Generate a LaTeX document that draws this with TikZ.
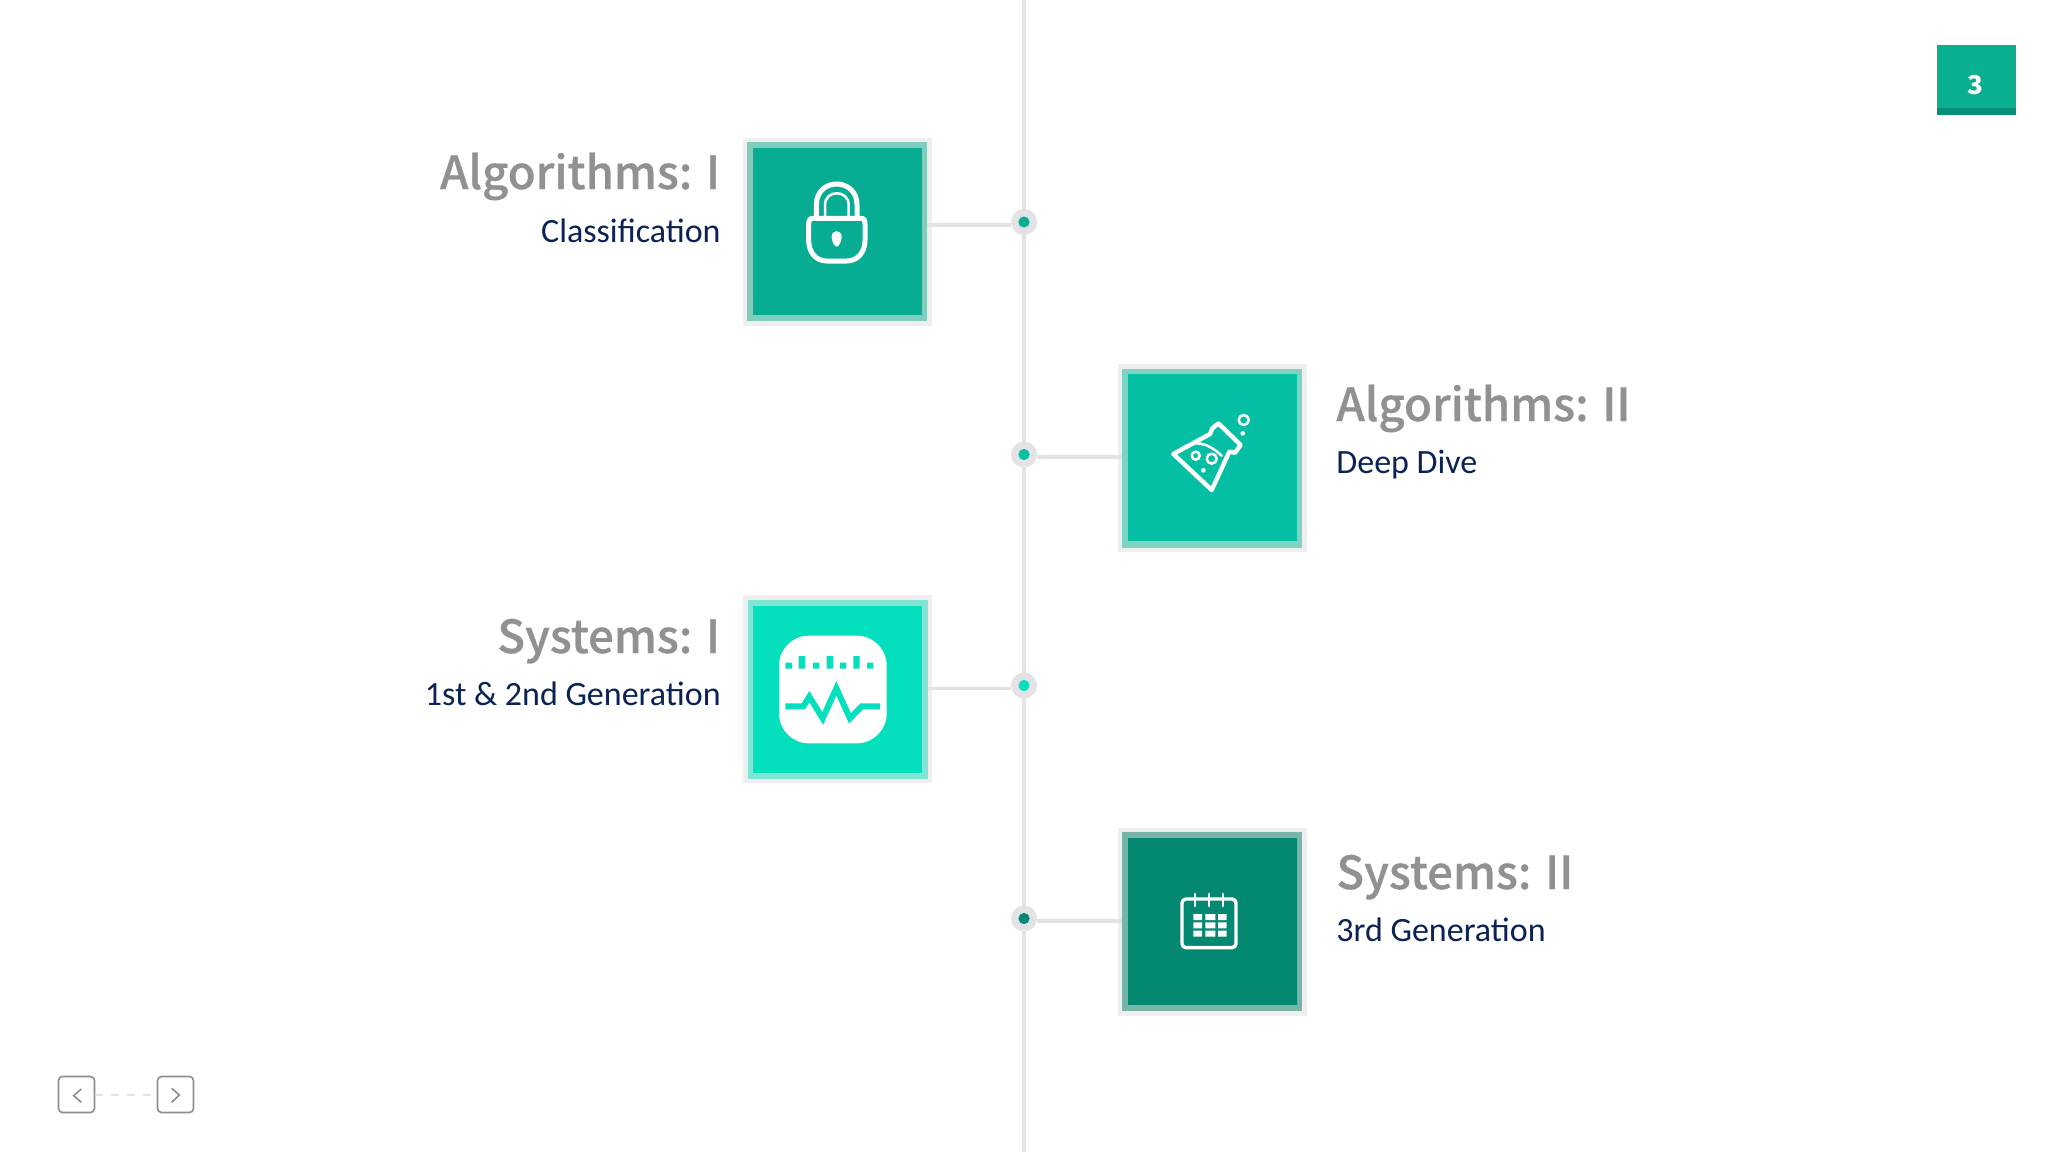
\documentclass[tikz,border=0pt]{standalone}
\usepackage{fontspec}
\setmainfont{Noto Sans CJK SC}
\newfontfamily\titlefont{Noto Sans CJK SC Medium}[FakeBold=0.6]
\newfontfamily\subfont{Carlito}
\definecolor{guide}{HTML}{E3E3E5}
\definecolor{halo}{HTML}{EFEEF0}
\definecolor{navy}{HTML}{0B2254}
\definecolor{titlegray}{HTML}{919191}
\definecolor{tealA}{HTML}{07AD93}
\definecolor{tealB}{HTML}{05BFA5}
\definecolor{tealC}{HTML}{04E0BD}
\definecolor{tealD}{HTML}{038872}
\definecolor{bandA}{HTML}{7FCDBD}
\definecolor{bandB}{HTML}{7ED3C2}
\definecolor{bandC}{HTML}{7FE6D5}
\definecolor{bandD}{HTML}{78B5A8}
\definecolor{navgray}{HTML}{8E8E8E}
\definecolor{badge}{HTML}{0AAE91}
\definecolor{badgedark}{HTML}{078F79}
\tikzset{
 x=0.5pt,y=-0.5pt,
 haloBox/.style={minimum width=94.5pt,minimum height=94pt,inner sep=0pt,outer sep=0pt,fill=halo},
 bandBox/.style={minimum width=90pt,minimum height=89.5pt,inner sep=0pt,outer sep=0pt},
 coreBox/.style={minimum width=84.5pt,minimum height=83.5pt,inner sep=0pt,outer sep=0pt},
 dotOuter/.style={circle,fill=guide,minimum size=13pt,inner sep=0pt,outer sep=0pt},
 dotInner/.style={circle,minimum size=5.6pt,inner sep=0pt,outer sep=0pt},
 guideline/.style={draw=guide,line width=2pt},
 connector/.style={draw=guide,line width=1.7pt},
 titleText/.style={font=\titlefont\fontsize{22.8pt}{26pt}\selectfont,text=titlegray,inner sep=0pt},
 subText/.style={font=\subfont\fontsize{17pt}{19pt}\selectfont,text=navy,inner sep=0pt},
 icon/.style={draw=white,line width=2.5pt,line join=round,line cap=round},
 flask/.style={draw=white,line width=2.2pt,line join=round,line cap=round},
 iconthin/.style={draw=white,line width=1.25pt,line join=round,line cap=round},
 navBox/.style={draw=navgray,line width=0.8pt,rounded corners=2pt,minimum size=18pt,inner sep=0pt,outer sep=0pt},
 navArrow/.style={draw=navgray,line width=0.8pt},
}
\begin{document}
\begin{tikzpicture}
\useasboundingbox (0,0) rectangle (2048,1152);
\fill[white] (0,0) rectangle (2048,1152);
% timeline
\coordinate (top) at (1024,0);
\coordinate (bottom) at (1024,1152);
\draw[guideline] (top) -- (bottom);
% dots
\node[dotOuter] (d1) at (1024,222) {};
\node[dotOuter] (d2) at (1024,454.5) {};
\node[dotOuter] (d3) at (1024,685.5) {};
\node[dotOuter] (d4) at (1024,918.5) {};
\node[dotInner,fill=tealA] (i1) at (d1) {};
\node[dotInner,fill=tealB] (i2) at (d2) {};
\node[dotInner,fill=tealC] (i3) at (d3) {};
\node[dotInner,fill=tealD] (i4) at (d4) {};
% boxes
\node[haloBox] (h1) at (837.5,231.5) {};
\node[bandBox,fill=bandA] (b1) at (837,231.5) {};
\node[coreBox,fill=tealA] (c1) at (837.5,231.5) {};
\node[haloBox] (h2) at (1212,458) {};
\node[bandBox,fill=bandB] (b2) at (1212,458) {};
\node[coreBox,fill=tealB] (c2) at (1212,457.5) {};
\node[haloBox] (h3) at (837.5,689) {};
\node[bandBox,fill=bandC] (b3) at (837.5,689) {};
\node[coreBox,fill=tealC] (c3) at (837.5,689) {};
\node[haloBox] (h4) at (1212,922) {};
\node[bandBox,fill=bandD] (b4) at (1212,921.5) {};
\node[coreBox,fill=tealD] (c4) at (1212,921) {};
% connectors
\coordinate (k1) at (1024,225);
\coordinate (k2) at (1024,457);
\coordinate (k3) at (1024,688.5);
\coordinate (k4) at (1024,921);
\draw[connector] (k1 -| b1.east) -- (k1 -| d1.west);
\draw[connector] (k2 -| b2.west) -- (k2 -| d2.east);
\draw[connector] (k3 -| b3.east) -- (k3 -| d3.west);
\draw[connector] (k4 -| b4.west) -- (k4 -| d4.east);
% labels
\node[titleText,anchor=base east] (t1) at (720.5,189) {Algorithms: I};
\node[subText,anchor=base east] (s1) at (721,242) {Classification};
\node[titleText,anchor=base west] (t2) at (1336,421) {Algorithms: II};
\node[subText,anchor=base west] (s2) at (1336,473) {Deep Dive};
\node[titleText,anchor=base east] (t3) at (720.5,653) {Systems: I};
\node[subText,anchor=base east] (s3) at (721,705) {1st \& 2nd Generation};
\node[titleText,anchor=base west] (t4) at (1336,889) {Systems: II};
\node[subText,anchor=base west] (s4) at (1336,941) {3rd Generation};
% lock
\begin{scope}[shift={(730,130)},scale=1/3]
\draw[icon] (236,282) .. controls (236,270) and (240,265) .. (250,265) -- (392,265) .. controls (402,265) and (405,270) .. (405,282) -- (405,330) .. controls (405,370) and (380,393) .. (350,393) -- (290,393) .. controls (260,393) and (236,370) .. (236,330) -- cycle;
\draw[icon] (259,262) -- (259,225) .. controls (259,141) and (381,141) .. (381,225) -- (381,262);
\draw[iconthin] (285,262) -- (285,225) .. controls (285,178) and (356,178) .. (356,225) -- (356,262);
\fill[white] (305,320) .. controls (305,298) and (335,298) .. (335,320) .. controls (335,332) and (328,350) .. (320,350) .. controls (312,350) and (305,332) .. (305,320) -- cycle;
\end{scope}
% flask
\begin{scope}[shift={(1110,360)},scale=1/3]
\draw[flask] (190,282) -- (300,222) -- (307,205) -- (325,190) -- (392,255) -- (375,278) -- (358,275) -- (305,390) -- cycle;
\draw[iconthin] (215,265) .. controls (250,240) and (290,245) .. (335,287);
\draw[iconthin] (257,287) circle[radius=12];
\draw[iconthin] (305,296) circle[radius=15];
\fill[white] (280,331) circle[radius=7];
\draw[iconthin] (401,180) circle[radius=15];
\fill[white] (398,220) circle[radius=7];
\end{scope}
% monitor
\begin{scope}[shift={(740,590)},scale=1/3]
\fill[white,rounded corners=15pt] (117,137) rectangle (440,460);
\fill[tealC] (136,218) rectangle (156,236) (176,198) rectangle (195,236) (219,218) rectangle (238,236) (260,198) rectangle (279,236) (300,218) rectangle (319,236) (340,198) rectangle (359,236) (381,218) rectangle (400,236);
\draw[tealC,line width=3pt,line join=miter] (136,349) -- (190,349) -- (208,320) -- (248,385) -- (289,295) -- (330,385) -- (365,349) -- (420,349);
\end{scope}
% calendar
\begin{scope}[shift={(1110,830)},scale=1/3]
\draw[icon,line width=1.7pt,rounded corners=2pt] (216,207) rectangle (378,353);
\draw[icon,line width=1.3pt] (255,192) -- (255,228) (297,192) -- (297,228) (339,192) -- (339,228);
\fill[white] (250,252) rectangle (276,270) (286,252) rectangle (316,270) (324,252) rectangle (350,270)
 (250,277) rectangle (276,295) (286,277) rectangle (316,295) (324,277) rectangle (350,295)
 (250,302) rectangle (276,320) (286,302) rectangle (316,320) (324,302) rectangle (350,320);
\end{scope}
% nav
\node[navBox] (prev) at (76.5,1094.5) {};
\node[navBox] (next) at (175.5,1094.5) {};
\draw[draw=guide,line width=1pt,dash pattern=on 4pt off 4pt] (prev.east) -- (next.west);
\begin{scope}[shift={(40,1060)},scale=1/3]
\draw[navArrow] (124,87) -- (101,107) -- (124,127);
\draw[navArrow] (395,85) -- (418,105) -- (395,127);
\end{scope}
% badge
\fill[badge] (1937,45) rectangle (2016,108);
\fill[badgedark] (1937,108) rectangle (2016,115);
\node[font=\bfseries\fontsize{13pt}{15pt}\selectfont,text=white,inner sep=0pt,anchor=base] (pg) at (1975.5,94) {3};
\end{tikzpicture}
\end{document}
